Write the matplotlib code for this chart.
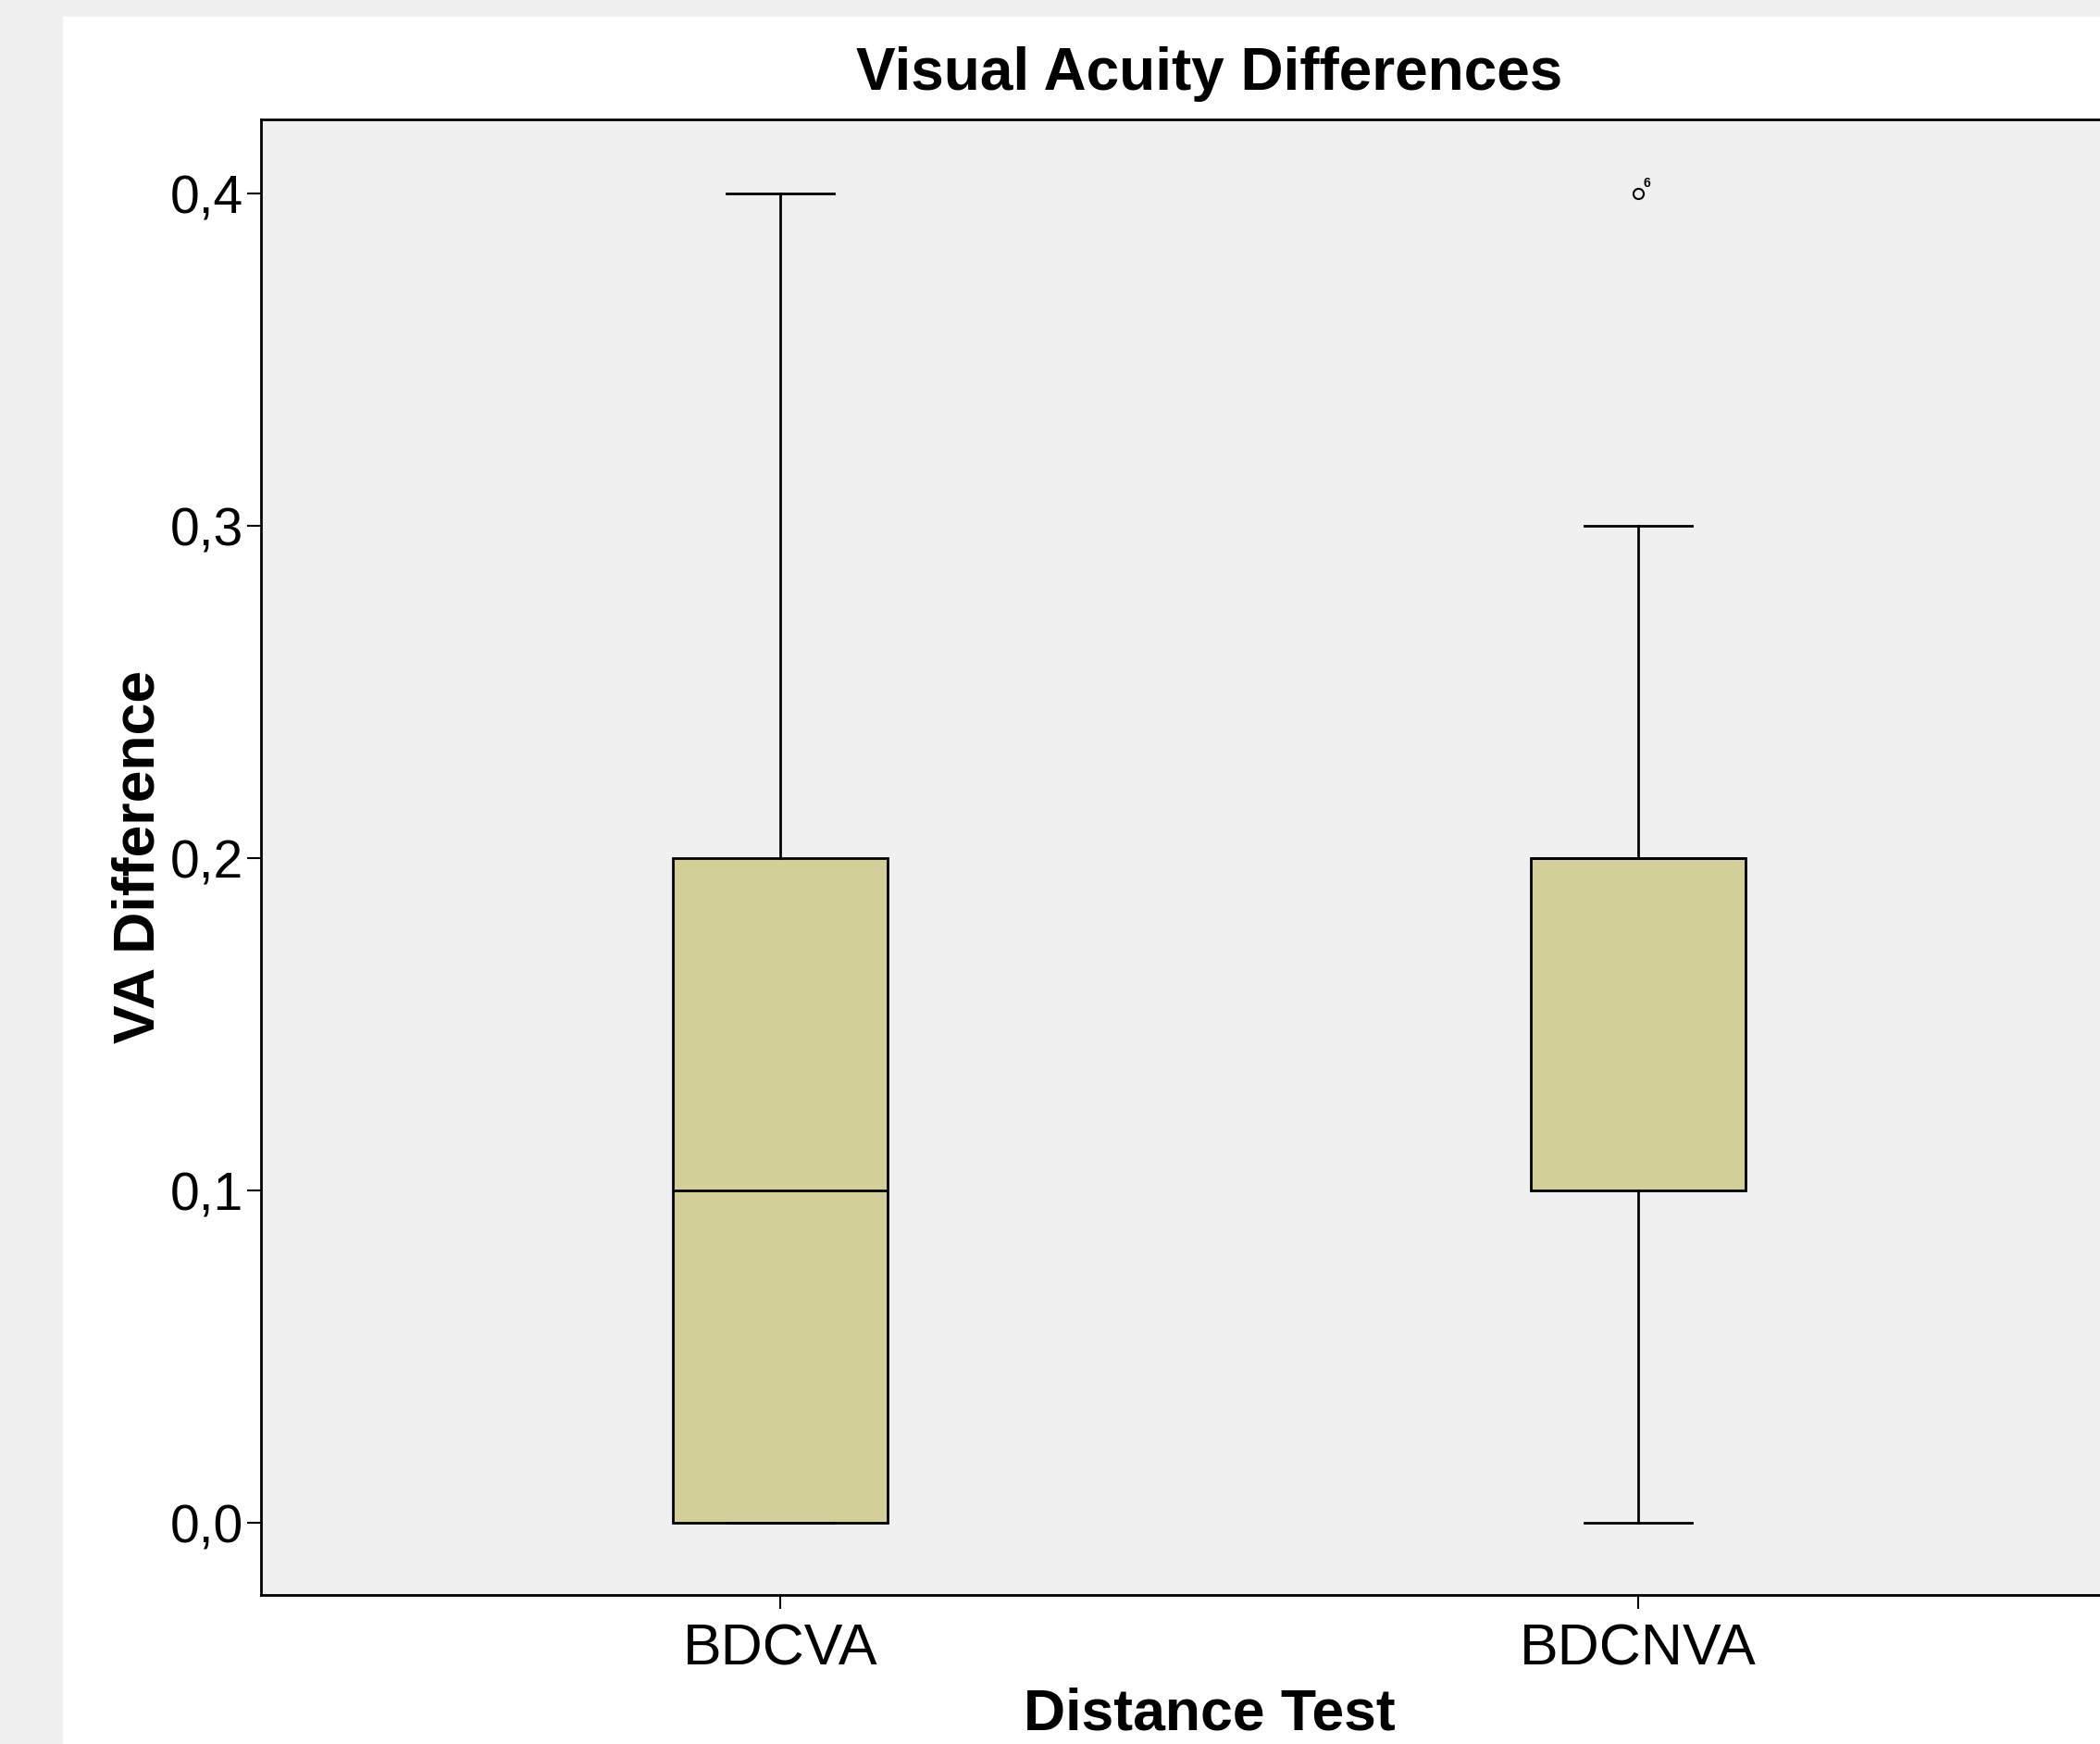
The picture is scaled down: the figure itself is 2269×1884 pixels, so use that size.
import matplotlib
matplotlib.use("Agg")
import matplotlib.pyplot as plt
from matplotlib.patches import Rectangle

# box statistics
categories = ["BDCVA", "BDCNVA"]
whisker_low = [0.0, 0.0]
q1 = [0.0, 0.1]
median = [0.1, 0.2]
q3 = [0.2, 0.2]
whisker_high = [0.4, 0.3]
outliers = [[], [0.4]]
outlier_ids = [[], ["6"]]

yticks = [0.0, 0.1, 0.2, 0.3, 0.4]
yticklabels = ["0,0", "0,1", "0,2", "0,3", "0,4"]

plt.rcParams['font.family'] = ['Liberation Sans', 'DejaVu Sans']

box_color = "#d3cf98"
panel_grey = "#f0f0f0"


def main():
    fig = plt.figure(figsize=(22.69, 18.84), dpi=100, facecolor=panel_grey)
    # white chart panel, behind the axes
    fig.patches.append(Rectangle((68/2269, 0), 1, 1 - 18/1884, transform=fig.transFigure,
                                 facecolor="white", edgecolor="none", zorder=-5))

    ax = fig.add_axes([282/2269, 1 - 1723/1884, (2331 - 282)/2269, (1723 - 129)/1884])
    ax.set_facecolor(panel_grey)

    stats = []
    for i, name in enumerate(categories):
        stats.append(dict(label=name, whislo=whisker_low[i], q1=q1[i], med=median[i],
                          q3=q3[i], whishi=whisker_high[i], fliers=outliers[i]))

    ax.bxp(stats, positions=range(len(categories)), widths=0.25, capwidths=0.126,
           patch_artist=True,
           boxprops=dict(facecolor=box_color, edgecolor="black", linewidth=2),
           medianprops=dict(color="black", linewidth=2),
           whiskerprops=dict(color="black", linewidth=2),
           capprops=dict(color="black", linewidth=2),
           flierprops=dict(marker="o", markersize=8, markerfacecolor="none",
                           markeredgecolor="black", markeredgewidth=1.5))

    for i in range(len(categories)):
        for v, lab in zip(outliers[i], outlier_ids[i]):
            ax.annotate(lab, (i, v), xytext=(4, 3), textcoords="offset points",
                        fontsize=10, fontweight="bold", ha="left", va="bottom")

    ax.set_xlim(-0.605, 1.605)
    ax.set_ylim(-0.0217, 0.4223)
    ax.set_yticks(yticks)
    ax.set_yticklabels(yticklabels)
    ax.set_xticks(range(len(categories)))
    ax.set_xticklabels(categories)
    ax.tick_params(axis="y", labelsize=41, length=11, width=1.5, pad=3)
    ax.tick_params(axis="x", labelsize=45, length=11, width=1.5, pad=10)

    for side in ["top", "left", "bottom"]:
        ax.spines[side].set_linewidth(2)
    ax.spines["right"].set_visible(False)

    ax.set_title("Visual Acuity Differences", fontsize=46, fontweight="bold", pad=23)
    ax.set_xlabel("Distance Test", fontsize=45, fontweight="bold", labelpad=8)
    ax.set_ylabel("VA Difference", fontsize=45, fontweight="bold", labelpad=3)

    plt.savefig("out.png", dpi=100, facecolor=fig.get_facecolor())


if __name__ == "__main__":
    main()
